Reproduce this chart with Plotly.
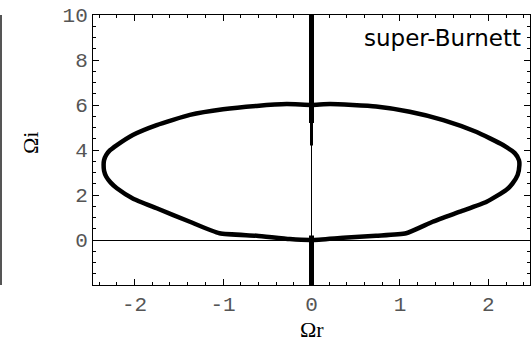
import plotly.graph_objects as go

# Dispersion branch in the complex plane (real part, imaginary part)
omega_r = [0.0, -0.28, -0.62, -1.0, -1.375, -1.75, -2.02, -2.20, -2.28, -2.32, -2.345, -2.35,
           -2.345, -2.32, -2.27, -2.20, -2.02, -1.75, -1.375, -1.04, -0.62, -0.245, 0.0,
           0.36, 0.73, 1.07, 1.37, 1.68, 1.98, 2.20, 2.27, 2.33, 2.35, 2.345, 2.30, 2.165,
           1.86, 1.49, 1.11, 0.73, 0.21, 0.0]
omega_i = [6.0, 6.04, 5.96, 5.81, 5.56, 5.11, 4.67, 4.22, 3.98, 3.78, 3.55, 3.33,
           3.08, 2.81, 2.55, 2.30, 1.85, 1.41, 0.81, 0.30, 0.19, 0.04, 0.0,
           0.10, 0.19, 0.30, 0.81, 1.26, 1.70, 2.22, 2.50, 2.89, 3.33, 3.55, 3.85, 4.22,
           4.81, 5.33, 5.70, 5.93, 6.04, 6.0]

# Purely imaginary branches on the axis Ωr = 0
upper_branch_i = [10.0, 5.2]
upper_tail_i = [5.2, 4.2]
lower_branch_i = [0.2, -2.0]

x_range = [-2.47, 2.47]
y_range = [-2.0, 10.0]
x_ticks = [-2, -1, 0, 1, 2]
y_ticks = [0, 2, 4, 6, 8, 10]

fig = go.Figure()
fig.add_trace(go.Scatter(x=omega_r, y=omega_i, mode="lines",
                         line=dict(color="black", width=4.5, shape="spline", smoothing=0.5),
                         hoverinfo="skip"))
fig.add_trace(go.Scatter(x=[0, 0], y=upper_branch_i, mode="lines",
                         line=dict(color="black", width=5), hoverinfo="skip"))
fig.add_trace(go.Scatter(x=[0, 0], y=upper_tail_i, mode="lines",
                         line=dict(color="black", width=3), hoverinfo="skip"))
fig.add_trace(go.Scatter(x=[0, 0], y=lower_branch_i, mode="lines",
                         line=dict(color="black", width=5), hoverinfo="skip"))

tick_font = dict(family="Liberation Mono, Courier New, monospace", size=21, color="#555555")
axis_common = dict(showgrid=False, showline=True, linecolor="black", linewidth=1,
                   mirror="ticks", ticks="inside", ticklen=6, tickwidth=1, tickcolor="black",
                   zeroline=True, zerolinecolor="black", zerolinewidth=1,
                   tickfont=tick_font)

fig.update_xaxes(range=x_range, tickvals=x_ticks, ticktext=[str(v) for v in x_ticks],
                 minor=dict(dtick=0.2, tick0=0, ticks="inside", ticklen=3, tickcolor="black"),
                 **axis_common)
fig.update_yaxes(range=y_range, tickvals=y_ticks, ticktext=[str(v) for v in y_ticks],
                 minor=dict(dtick=0.5, tick0=0, ticks="inside", ticklen=3, tickcolor="black"),
                 **axis_common)

fig.add_annotation(text="super-Burnett", xref="paper", yref="paper", x=0.985, y=0.915,
                   xanchor="right", yanchor="middle", showarrow=False,
                   font=dict(family="DejaVu Sans", size=23, color="black"))
fig.add_annotation(text="Ωr", xref="paper", yref="paper", x=(312 - 93) / 437, y=(285 - 329) / 270,
                   xanchor="center", yanchor="middle", showarrow=False,
                   font=dict(family="Liberation Serif, Times New Roman, serif", size=22, color="black"))
fig.add_annotation(text="Ωi", xref="paper", yref="paper", x=(30 - 93) / 437, y=(285 - 143) / 270,
                   xanchor="center", yanchor="middle", showarrow=False, textangle=-90,
                   font=dict(family="Liberation Serif, Times New Roman, serif", size=22, color="black"))

# Edge of the neighbouring panel along the left border
fig.add_shape(type="line", xref="paper", yref="paper", x0=(1 - 93) / 437, x1=(1 - 93) / 437,
              y0=0, y1=1, line=dict(color="#555555", width=2))

fig.update_layout(width=531, height=341, margin=dict(l=93, r=1, t=15, b=56),
                  paper_bgcolor="white", plot_bgcolor="white", showlegend=False)

fig.write_html("out.html")
